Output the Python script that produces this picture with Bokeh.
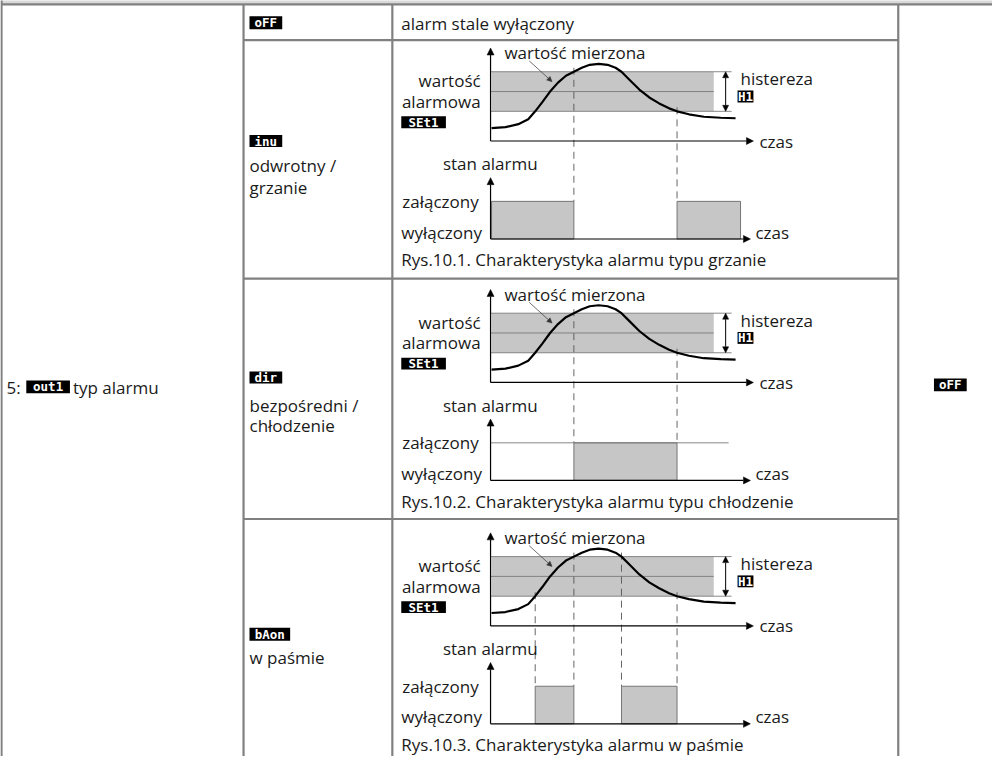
import numpy as np
from bokeh.plotting import figure
from bokeh.models import Range1d, Arrow, NormalHead, ColumnDataSource
from bokeh.core.properties import value
from bokeh.embed import file_html
from bokeh.resources import INLINE

# ---------------- data ----------------
# measured value: time (from the value axis) and value (above the time axis)
curve_t = [1, 15, 28, 38, 45, 52, 60, 68, 76, 84, 92, 100, 109, 118, 126, 132,
           140, 150, 160, 170, 180, 188, 200, 215, 232, 247]
curve_v = [13, 14, 17, 22, 30, 39, 50, 59, 66, 70, 74, 77, 78, 77, 74, 70,
           62, 52, 44, 38, 33, 30, 27, 24.5, 23.5, 23]
band_low, set_value, band_high = 30, 50, 70

# alarm state "on" intervals (time units) for each alarm type
state_on = [
    [(1, 84), (188, 252)],    # inu  - odwrotny / grzanie
    [(84, 188)],              # dir  - bezpośredni / chłodzenie
    [(45, 84), (132, 188)],   # bAon - w paśmie
]
# times where the curve crosses the hysteresis band edges (dashed markers)
crossings = [
    [84, 188],
    [84, 188],
    [45, 84, 132, 188],
]
captions = [
    "Rys.10.1. Charakterystyka alarmu typu grzanie",
    "Rys.10.2. Charakterystyka alarmu typu chłodzenie",
    "Rys.10.3. Charakterystyka alarmu w paśmie",
]
mode_codes = ["inu", "dir", "bAon"]
mode_names = [["odwrotny /", "grzanie"], ["bezpośredni /", "chłodzenie"], ["w paśmie"]]

# ---------------- layout (pixel coordinates of the page) ----------------
FONT = value("Open Sans")
FS = "17px"
GRID = "#808080"
FILL = "#c6c6c6"

p = figure(width=992, height=756, x_range=Range1d(4, 1004), y_range=Range1d(768, 4),
           output_backend="svg", toolbar_location=None, min_border=0,
           x_axis_type=None, y_axis_type=None)
p.grid.visible = False
p.outline_line_color = None
p.background_fill_color = "white"

# table frame
p.quad(left=[5], right=[1005], top=[0], bottom=[8], fill_color="#d9d9d9", line_color=None)
p.segment(x0=[5, 249, 399, 909, 1005], y0=[0, 8, 8, 8, 0],
          x1=[5, 249, 399, 909, 1005], y1=[780, 780, 780, 780, 8],
          line_color=GRID, line_width=2.2)
p.segment(x0=[5, 249, 249, 249], y0=[8, 44, 285, 528],
          x1=[1005, 909, 909, 909], y1=[8, 44, 285, 528],
          line_color=GRID, line_width=2.2)

left_txt = dict(x=[], y=[], t=[])
right_txt = dict(x=[], y=[], t=[])
sym = dict(l=[], r=[], tp=[], b=[], t=[])


def add_left(x, y, t):
    left_txt["x"].append(x); left_txt["y"].append(y); left_txt["t"].append(t)


def add_right(x, y, t):
    right_txt["x"].append(x); right_txt["y"].append(y); right_txt["t"].append(t)


def add_sym(l, r, tp, b, t):
    sym["l"].append(l); sym["r"].append(r); sym["tp"].append(tp); sym["b"].append(b); sym["t"].append(t)


def arrow(x0, y0, x1, y1, size=7, both=False, lw=1.2, color="black"):
    head = lambda: NormalHead(size=size, fill_color=color, line_color=color, line_width=0.5)
    p.add_layout(Arrow(end=head(), start=head() if both else None,
                       x_start=x0, y_start=y0, x_end=x1, y_end=y1,
                       line_width=lw, line_color=color))


# first column
add_left(10, 395, "5:")
add_sym(30, 74, 388, 401, "out1")
add_left(77, 395, "typ alarmu")
# last column
add_sym(945, 978, 386, 399, "oFF")
# first row
add_sym(255, 288, 20, 33, "oFF")
add_left(408, 27, "alarm stale wyłączony")

AX = 498
Y0s = [146, 390, 636]
code_y = [(140, 152), (379, 391), (638, 651)]
code_w = [33, 33, 41]
name_y = [[171, 193], [413, 434], [668]]

ct = np.array(curve_t, dtype=float)
cv = np.array(curve_v, dtype=float)

for i, Y0 in enumerate(Y0s):
    # mode label in second column
    add_sym(255, 255 + code_w[i], code_y[i][0], code_y[i][1], mode_codes[i])
    for yy, nm in zip(name_y[i], mode_names[i]):
        add_left(255, yy, nm)

    # hysteresis band
    p.quad(left=[AX + 1], right=[AX + 225], top=[Y0 - band_high], bottom=[Y0 - band_low],
           fill_color=FILL, line_color=None)
    p.segment(x0=[AX, AX, AX], y0=[Y0 - band_high, Y0 - set_value, Y0 - band_low],
              x1=[AX + 243, AX + 225, AX + 243], y1=[Y0 - band_high, Y0 - set_value, Y0 - band_low],
              line_color="#7a7a7a", line_width=0.9)

    # dashed markers
    xs = [AX + c for c in crossings[i]]
    tops = [Y0 - float(np.interp(c, ct, cv)) - 4 for c in crossings[i]]
    p.segment(x0=xs, y0=tops, x1=xs, y1=[Y0 + 61] * len(xs),
              line_color="#555555", line_width=0.9, line_dash="7 5")

    # measured curve
    p.line(x=AX + ct, y=Y0 - cv, line_color="black", line_width=2.2)

    # axes of upper chart
    arrow(AX, Y0, AX, Y0 - 94)
    arrow(AX, Y0, 763, Y0)
    arrow(735, Y0 - band_low, 735, Y0 - band_high, size=6, both=True, lw=1.0)
    arrow(AX + 39, Y0 - 81, AX + 62, Y0 - 60, size=5, lw=0.7, color="#333333")

    # alarm state chart
    for a, b in state_on[i]:
        p.quad(left=[AX + a], right=[AX + b], top=[Y0 + 61], bottom=[Y0 + 99],
               fill_color=FILL, line_color="#6a6a6a", line_width=0.9)
    if i == 1:
        p.segment(x0=[AX], y0=[Y0 + 61], x1=[AX + 240], y1=[Y0 + 61],
                  line_color="#7a7a7a", line_width=0.9)
    arrow(AX, Y0 + 99, AX, Y0 + 37)
    arrow(AX, Y0 + 99, 760, Y0 + 99)

    # texts
    add_left(512, Y0 - 89, "wartość mierzona")
    add_right(488, Y0 - 61, "wartość")
    add_right(488, Y0 - 40, "alarmowa")
    add_sym(408, 453, Y0 - 25, Y0 - 13, "SEt1")
    add_left(750, Y0 - 63, "histereza")
    add_sym(747, 763, Y0 - 51, Y0 - 39, "H1")
    add_left(769, Y0, "czas")
    add_left(450, Y0 + 23, "stan alarmu")
    add_left(409, Y0 + 61, "załączony")
    add_left(408, Y0 + 92, "wyłączony")
    add_left(765, Y0 + 92, "czas")
    add_left(408, Y0 + 120, captions[i])

p.text(x="x", y="y", text="t", source=ColumnDataSource(left_txt),
       text_font=FONT, text_font_size=FS, text_color="#1a1a1a",
       text_align="left", text_baseline="middle")
p.text(x="x", y="y", text="t", source=ColumnDataSource(right_txt),
       text_font=FONT, text_font_size=FS, text_color="#1a1a1a",
       text_align="right", text_baseline="middle")

src = ColumnDataSource(dict(l=sym["l"], r=sym["r"], tp=sym["tp"], b=sym["b"], t=sym["t"],
                            cx=[(a + b) / 2 for a, b in zip(sym["l"], sym["r"])],
                            cy=[(a + b) / 2 for a, b in zip(sym["tp"], sym["b"])]))
p.quad(left="l", right="r", top="tp", bottom="b", source=src, fill_color="black", line_color=None)
p.text(x="cx", y="cy", text="t", source=src, text_font=value("DejaVu Sans Mono"),
       text_font_style="bold", text_font_size="12.5px", text_color="white",
       text_align="center", text_baseline="middle")

open("out.html", "w").write(file_html(p, INLINE))
